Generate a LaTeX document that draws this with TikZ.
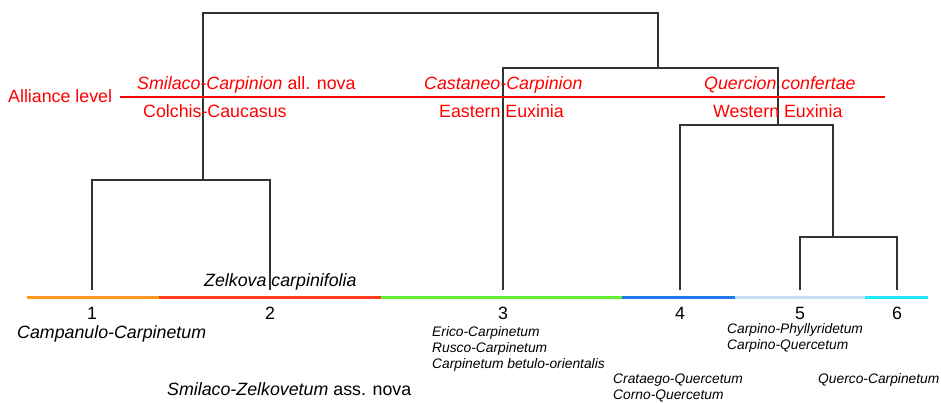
\documentclass[tikz,border=0pt]{standalone}
\usepackage{fontspec}
\setmainfont{Liberation Sans}
\definecolor{bandorange}{HTML}{FF9A1E}
\definecolor{bandred}{HTML}{FF3C1E}
\definecolor{bandgreen}{HTML}{66EE33}
\definecolor{bandblue}{HTML}{1E78F0}
\definecolor{bandpale}{HTML}{CCDDF8}
\definecolor{bandcyan}{HTML}{22E6FF}
\begin{document}
\begin{tikzpicture}[x=1pt, y=-1pt, every node/.style={inner sep=0pt},
    link/.style={draw=black!80, line width=1.3pt},
    band/.style={line width=3pt},
    big/.style={font=\fontsize{17.8}{20}\selectfont},
    small/.style={font=\fontsize{13.8}{16}\selectfont\itshape, anchor=base west},
    alliance/.style={text=red, font=\fontsize{17.8}{20}\selectfont, anchor=base west}]
    \useasboundingbox (0,0) rectangle (941,403);
    \coordinate (l1) at (92,290);
    \coordinate (l2) at (270,290);
    \coordinate (l3) at (503,290);
    \coordinate (l4) at (680,290);
    \coordinate (l5) at (800,290);
    \coordinate (l6) at (897,290);
    \coordinate (j12) at (203,180);
    \coordinate (j56) at (833,237);
    \coordinate (j456) at (778,125);
    \coordinate (j3456) at (658,68);
    \coordinate (root) at (430,13);
    \draw[link] (l1) |- (j12) -| (l2);
    \draw[link] (l5) |- (j56) -| (l6);
    \draw[link] (l4) |- (j456) -| (j56);
    \draw[link] (l3) |- (j3456) -| (j456);
    \draw[link] (j12) |- (root) -| (j3456);
    \draw[band, bandorange] (27,297) -- (159,297);
    \draw[band, bandred] (159,297) -- (381,297);
    \draw[band, bandgreen] (381,297) -- (622,297);
    \draw[band, bandblue] (622,297) -- (735,297);
    \draw[band, bandpale] (735,297) -- (865,297);
    \draw[band, bandcyan] (865,297) -- (928,297);
    \draw[red, line width=2.3pt] (120,97) -- (885,97);
    \node[alliance] (lvl) at (8,103) {Alliance level};
    \node[alliance] (smc) at (137,90) {\textit{Smilaco-Carpinion} all. nova};
    \node[alliance] (cc) at (143,118) {Colchis-Caucasus};
    \node[alliance] (cac) at (424,90) {\textit{Castaneo-Carpinion}};
    \node[alliance] (ee) at (439,118) {Eastern Euxinia};
    \node[alliance] (qc) at (704,90) {\textit{Quercion confertae}};
    \node[alliance] (we) at (713,118) {Western Euxinia};
    \node[big, anchor=base] (n1) at (92,319) {1};
    \node[big, anchor=base] (n2) at (270,319) {2};
    \node[big, anchor=base] (n3) at (503,319) {3};
    \node[big, anchor=base] (n4) at (680,319) {4};
    \node[big, anchor=base] (n5) at (800,319) {5};
    \node[big, anchor=base] (n6) at (897,319) {6};
    \node[big, anchor=base west] (zc) at (204,286) {\textit{Zelkova carpinifolia}};
    \node[big, anchor=base west] (cmp) at (17,338) {\textit{Campanulo-Carpinetum}};
    \node[big, anchor=base west] (sz) at (167,395) {\textit{Smilaco-Zelkovetum} ass. nova};
    \node[small] (ec) at (432,336) {Erico-Carpinetum};
    \node[small] (rc) at (432,352) {Rusco-Carpinetum};
    \node[small] (cbo) at (432,368) {Carpinetum betulo-orientalis};
    \node[small] (crq) at (613,383) {Crataego-Quercetum};
    \node[small] (coq) at (613,399) {Corno-Quercetum};
    \node[small] (cph) at (727,333) {Carpino-Phyllyridetum};
    \node[small] (cpq) at (727,349) {Carpino-Quercetum};
    \node[small] (qca) at (818,383) {Querco-Carpinetum};
\end{tikzpicture}
\end{document}
